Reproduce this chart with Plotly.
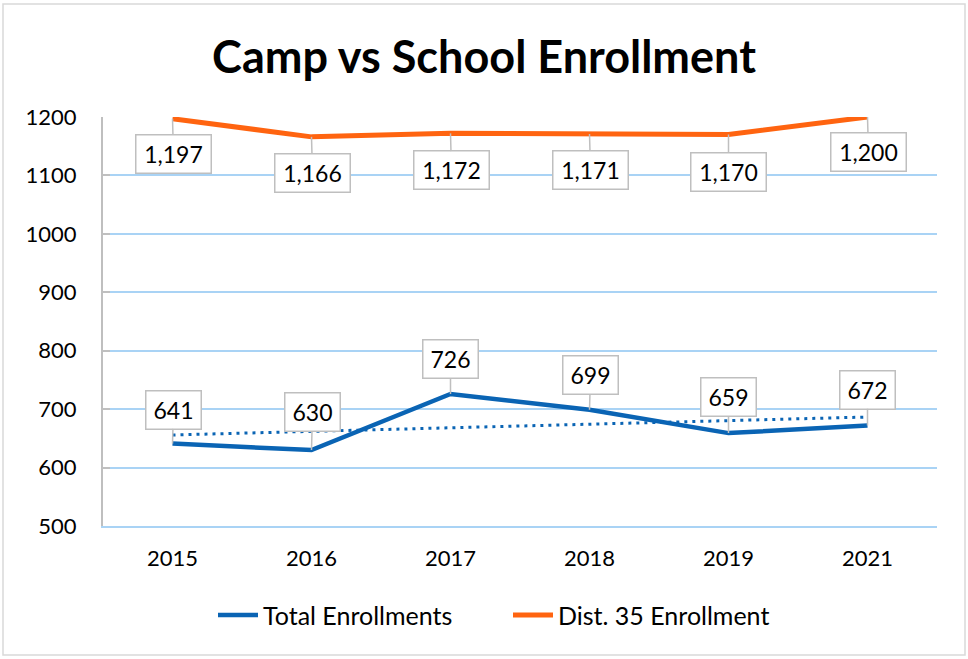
import numpy as np
import plotly.graph_objects as go

years = ["2015", "2016", "2017", "2018", "2019", "2021"]
total_enrollments = [641, 630, 726, 699, 659, 672]
dist35_enrollment = [1197, 1166, 1172, 1171, 1170, 1200]
y_ticks = [500, 600, 700, 800, 900, 1000, 1100, 1200]

# label box offsets (pixels) relative to each point
orange_offsets = [(1, 35), (1, 36), (1, 37), (1, 36), (0, 37), (1, 35)]
blue_offsets = [(1, -34), (1, -38), (0, -35), (1, -35), (0, -36), (0, -36)]

BLUE = "#0A64B4"
ORANGE = "#FF6410"
FONT = "Lato"

# linear trendline (Excel style) on Total Enrollments
idx = np.arange(len(years))
slope, intercept = np.polyfit(idx, total_enrollments, 1)
trend = slope * idx + intercept

fig = go.Figure()
fig.add_trace(go.Scatter(x=years, y=total_enrollments, mode="lines", name="Total Enrollments",
                         line=dict(color=BLUE, width=4.5)))
fig.add_trace(go.Scatter(x=years, y=dist35_enrollment, mode="lines", name="Dist. 35 Enrollment",
                         line=dict(color=ORANGE, width=5)))
fig.add_trace(go.Scatter(x=years, y=trend.tolist(), mode="lines", showlegend=False,
                         line=dict(color=BLUE, width=3, dash="3px,5px"), hoverinfo="skip"))

annots = []
for series, offsets in ((dist35_enrollment, orange_offsets), (total_enrollments, blue_offsets)):
    for i, (v, (dx, dy)) in enumerate(zip(series, offsets)):
        txt = f"{v:,}"
        box_w = 66 if len(txt) > 3 else 46
        annots.append(dict(x=i, y=v, text=txt, ax=dx, ay=dy, axref="pixel", ayref="pixel",
                           showarrow=True, arrowhead=0, arrowwidth=1.5, arrowcolor="#BFBFBF",
                           standoff=0, bgcolor="white", bordercolor="#BFBFBF", borderwidth=1.5,
                           borderpad=4, width=box_w, height=29,
                           font=dict(family=FONT, size=23, color="black")))

fig.update_layout(
    width=968, height=659,
    margin=dict(l=103, r=31, t=117, b=133, autoexpand=False),
    paper_bgcolor="white", plot_bgcolor="white",
    title=dict(text="Camp vs School Enrollment", x=0.5, xanchor="center", y=0.913, yanchor="middle",
               font=dict(family=FONT, size=45, color="black", weight="bold")),
    font=dict(family=FONT, size=22, color="black"),
    showlegend=True,
    legend=dict(orientation="h", x=(213 - 103) / 834, xanchor="left", y=-0.218, yanchor="middle",
                font=dict(family=FONT, size=25, color="black"), itemwidth=40,
                entrywidth=240, bgcolor="rgba(0,0,0,0)"),
    annotations=annots,
    shapes=[dict(type="rect", xref="paper", yref="paper",
                 x0=(3 - 103) / 834, x1=(965 - 103) / 834,
                 y0=(526 - 655) / 409, y1=(526 - 4) / 409,
                 line=dict(color="#D9D9D9", width=1.5), fillcolor="rgba(0,0,0,0)", layer="below")],
)
fig.update_xaxes(type="category", range=[-0.5, 5.5], showgrid=False, showline=True,
                 linecolor="#A9D3F5", linewidth=1.5, automargin=False,
                 ticks="", ticklabelstandoff=12, tickfont=dict(family=FONT, size=22, color="black"))
fig.update_yaxes(range=[500, 1200], tickvals=y_ticks, showgrid=True, gridcolor="#A9D3F5", gridwidth=1.5,
                 showline=True, linecolor="#BFBFBF", linewidth=2, ticks="inside", ticklen=7,
                 tickcolor="#BFBFBF", tickwidth=1.5, zeroline=False, ticklabelstandoff=20,
                 automargin=False, tickfont=dict(family=FONT, size=22, color="black"))

fig.write_html("out.html", config={"displayModeBar": False},
               post_script="document.body.style.margin='0';")
